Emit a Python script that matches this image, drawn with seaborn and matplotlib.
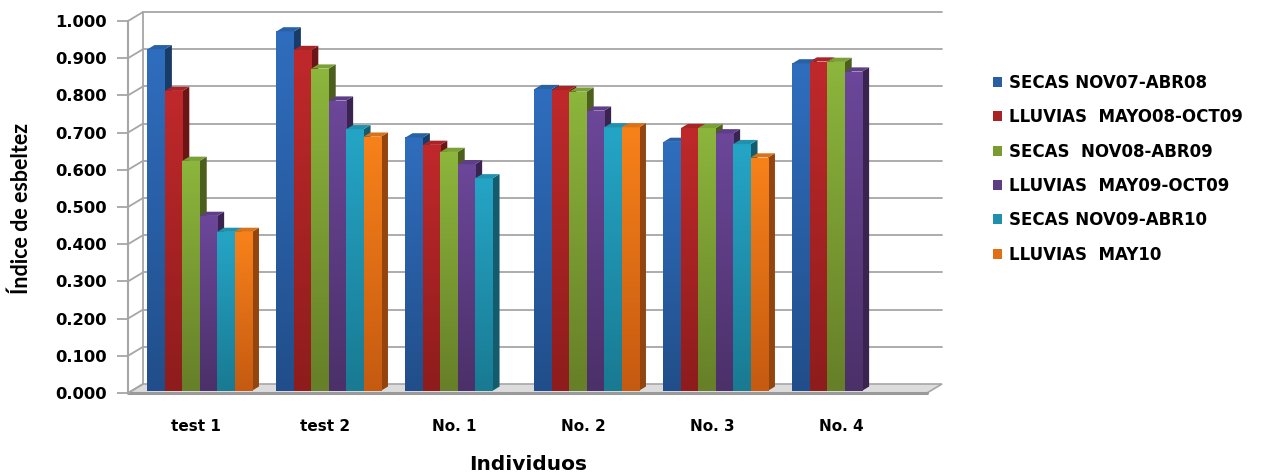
import numpy as np
import pandas as pd
import matplotlib
matplotlib.use("Agg")
import matplotlib.pyplot as plt
import seaborn as sns
from matplotlib.transforms import ScaledTranslation
from matplotlib.patches import Polygon, Patch
from matplotlib.colors import to_rgb, LinearSegmentedColormap

# ---- data -----------------------------------------------------------------
individuos = ["test 1", "test 2", "No. 1", "No. 2", "No. 3", "No. 4"]
periodos = ["SECAS NOV07-ABR08", "LLUVIAS  MAYO08-OCT09", "SECAS  NOV08-ABR09",
            "LLUVIAS  MAY09-OCT09", "SECAS NOV09-ABR10", "LLUVIAS  MAY10"]

secas_nov07_abr08 = [0.918, 0.966, 0.681, 0.811, 0.669, 0.880]
lluvias_may08_oct09 = [0.806, 0.916, 0.661, 0.808, 0.706, 0.885]
secas_nov08_abr09 = [0.618, 0.866, 0.642, 0.804, 0.706, 0.884]
lluvias_may09_oct09 = [0.470, 0.780, 0.609, 0.753, 0.692, 0.858]
secas_nov09_abr10 = [0.427, 0.703, 0.571, 0.708, 0.663, np.nan]
lluvias_may10 = [0.427, 0.683, np.nan, 0.708, 0.627, np.nan]

series = [secas_nov07_abr08, lluvias_may08_oct09, secas_nov08_abr09,
          lluvias_may09_oct09, secas_nov09_abr10, lluvias_may10]

y_ticks = [0.0, 0.1, 0.2, 0.3, 0.4, 0.5, 0.6, 0.7, 0.8, 0.9, 1.0]
y_tick_labels = ["0.000", "0.100", "0.200", "0.300", "0.400", "0.500",
                 "0.600", "0.700", "0.800", "0.900", "1.000"]

# ---- styling --------------------------------------------------------------
color_top = ["#2F6EBE", "#C0292B", "#8CB63C", "#6C479A", "#25A5C6", "#F8821A"]
color_bottom = ["#214E8A", "#8E1C1C", "#667F28", "#4B3069", "#197A92", "#C55A11"]
grid_color = "#A6A6A6"

sns.set_theme(style="white")
plt.rcParams["font.family"] = ["DejaVu Sans"]
plt.rcParams["text.color"] = "black"
plt.rcParams["xtick.labelcolor"] = "black"
plt.rcParams["ytick.labelcolor"] = "black"

W, H = 1261, 474
fig = plt.figure(figsize=(W / 100, H / 100), dpi=100)
ax = fig.add_axes([128 / W, 1 - 393 / H, (927 - 128) / W, (393 - 21) / H])

df = pd.DataFrame({
    "Individuo": np.repeat([individuos], len(periodos), axis=0).ravel(),
    "Periodo": np.repeat(periodos, len(individuos)),
    "Indice": np.concatenate(series),
}).dropna()

sns.barplot(data=df, x="Individuo", y="Indice", hue="Periodo",
            order=individuos, hue_order=periodos, palette=color_top,
            width=0.81, gap=0, dodge=True, saturation=1, errorbar=None,
            legend=False, ax=ax)

x0, x1 = -0.527, 5.667
ax.set_xlim(x0, x1)
ax.set_ylim(0, 1)

px_x = (927 - 128) / (x1 - x0)       # pixels per category unit
px_y = (393 - 21) / 1.0               # pixels per index unit
DX, DY = 15 / px_x, 9 / px_y          # depth of the chart box
BDX, BDY = 7 / px_x, 4.2 / px_y       # depth of each column

# columns sit slightly behind the front plane
shift = ax.transData + ScaledTranslation(3.75 / 100, 2.25 / 100, fig.dpi_scale_trans)

# floor
floor = Polygon([(x0, 0), (x1, 0), (x1 + DX, DY), (x0 + DX, DY)], closed=True,
                facecolor="#DCDCDC", edgecolor=grid_color, lw=1.2,
                zorder=0.4, clip_on=False)
ax.add_patch(floor)
ax.plot([x0, x1], [0, 0], color="#9A9A9A", lw=2.2, zorder=0.45, clip_on=False)

# back wall gridlines, left wall edge and connectors to the front axis
for v in y_ticks[1:]:
    ax.plot([x0 + DX, x1 + DX], [v + DY, v + DY], color=grid_color, lw=1.3,
            zorder=0.5, clip_on=False)
for v in y_ticks:
    ax.plot([x0, x0 + DX], [v, v + DY], color=grid_color, lw=1.3,
            zorder=0.5, clip_on=False)
ax.plot([x0 + DX, x0 + DX], [DY, 1 + DY], color=grid_color, lw=1.3,
        zorder=0.5, clip_on=False)

# 3-D columns: gradient front, dark side, top cap
bars = []
for k, cont in enumerate(ax.containers):
    for p in cont.patches:
        if np.isnan(p.get_height()):
            continue
        bars.append((p.get_x(), k, p))
bars.sort(key=lambda b: b[0])

grad = np.linspace(0, 1, 256).reshape(-1, 1)
for rank, (_, k, p) in enumerate(bars):
    z = 3 + rank * 0.01
    x, w, h = p.get_x(), p.get_width(), p.get_height()
    top = np.array(to_rgb(color_top[k]))
    bot = np.array(to_rgb(color_bottom[k]))
    p.set_transform(shift)
    p.set_zorder(z)
    p.set_edgecolor("none")
    cmap = LinearSegmentedColormap.from_list("col", [bot, top])
    im = ax.imshow(grad, extent=[x, x + w, 0, h], origin="lower", cmap=cmap,
                   aspect="auto", interpolation="bilinear", zorder=z + 0.002)
    im.set_transform(shift)
    im.set_clip_path(p)
    side = Polygon([(x + w, 0), (x + w + BDX, BDY), (x + w + BDX, h + BDY), (x + w, h)],
                   closed=True, facecolor=bot * 0.75, edgecolor="none",
                   transform=shift, zorder=z + 0.001, clip_on=False)
    cap = Polygon([(x, h), (x + w, h), (x + w + BDX, h + BDY), (x + BDX, h + BDY)],
                  closed=True, facecolor=top * 0.88, edgecolor="none",
                  transform=shift, zorder=z + 0.003, clip_on=False)
    ax.add_patch(side)
    ax.add_patch(cap)

ax.set_xlim(x0, x1)
ax.set_ylim(0, 1)

# axes and ticks
for s in ["top", "right", "bottom"]:
    ax.spines[s].set_visible(False)
ax.spines["left"].set_color(grid_color)
ax.spines["left"].set_linewidth(1.5)
ax.set_yticks(y_ticks)
ax.set_yticklabels(y_tick_labels, fontsize=11.8, fontweight="bold", color="black")
ax.tick_params(axis="y", left=True, length=8, width=1.3, color=grid_color, pad=7)
ax.tick_params(axis="x", length=0, pad=19)
for lab in ax.get_xticklabels():
    lab.set_fontweight("bold")
    lab.set_fontsize(11)
    lab.set_color("black")
ax.set_xlabel("")
ax.set_ylabel("")
ax.grid(False)

fig.text(21 / W, 1 - 208 / H, "Índice de esbeltez", rotation=90, ha="center",
         va="center", fontsize=15.5, fontweight="bold", color="black",
         family=["Lato", "DejaVu Sans"])
fig.text(528 / W, 1 - 464 / H, "Individuos", ha="center", va="center",
         fontsize=14.5, fontweight="bold", color="black", family=["DejaVu Sans"])

handles = [Patch(facecolor=(np.array(to_rgb(t)) + np.array(to_rgb(b))) / 2, edgecolor="none")
           for t, b in zip(color_top, color_bottom)]
fig.legend(handles, periodos, loc="upper left", bbox_to_anchor=(993 / W, 1 - 74 / H),
           frameon=False, borderpad=0, borderaxespad=0, handlelength=0.55,
           handleheight=0.55, handletextpad=0.4, labelspacing=0.98,
           prop=dict(weight="bold", size=12))

fig.savefig("out.png", dpi=100)
